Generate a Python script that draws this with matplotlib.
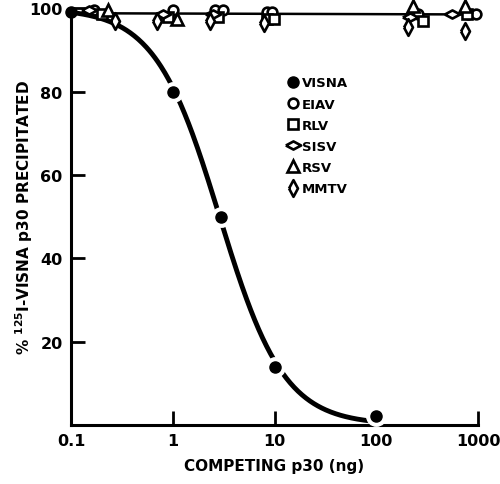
import numpy as np
import matplotlib
matplotlib.use("Agg")
import matplotlib.pyplot as plt
from matplotlib.lines import Line2D

plt.rcParams['font.family'] = ['DejaVu Sans']
plt.rcParams['font.weight'] = 'bold'
plt.rcParams['mathtext.fontset'] = 'custom'
plt.rcParams['mathtext.rm'] = 'DejaVu Sans:bold'

# VISNA competition (homologous)
visna_x = [0.1, 1, 3, 10, 100]
visna_y = [99, 80, 50, 14, 2]

# heterologous p30s, no competition
eiav_x = [0.17, 1.0, 2.6, 3.1, 8.5, 9.5, 260, 790, 960]
eiav_y = [99.5, 99.5, 99.5, 99.5, 99, 99, 98.5, 98.5, 98.5]
rlv_x = [0.2, 0.9, 2.8, 8.5, 9.8, 290, 780]
rlv_y = [98.5, 98, 98, 97.5, 97.5, 97, 98.5]
sisv_x = [0.15, 0.8, 2.5, 215, 560]
sisv_y = [99.5, 98.5, 98.5, 98, 98.5]
rsv_x = [0.23, 1.1, 230, 750]
rsv_y = [99.5, 97.5, 100.5, 100.5]
mmtv_x = [0.27, 0.7, 2.3, 7.8, 205, 750]
mmtv_y = [97, 97, 97, 96.5, 95.5, 94.5]

flat_x = [0.1, 1000]
flat_y = [98.8, 98.5]

labels = ['VISNA', 'EIAV', 'RLV', 'SISV', 'RSV', 'MMTV']

# fit a competition curve (IC50, slope) to the VISNA points
lvx = np.log10(visna_x)
best = None
for c in np.linspace(0, 1, 201):
    for s in np.linspace(0.5, 2.5, 201):
        pred = 100 / (1 + 10**(s * (lvx - c)))
        err = np.sum((pred - np.array(visna_y))**2)
        if best is None or err < best[0]:
            best = (err, c, s)
_, c50, slope = best

wide_d = [(-1.5, 0), (0, 0.8), (1.5, 0), (0, -0.8), (-1.5, 0)]
tall_d = [(-0.75, 0), (0, 1.4), (0.75, 0), (0, -1.4), (-0.75, 0)]

fig = plt.figure(figsize=(5, 4.85), dpi=100)
ax = fig.add_axes([0.142, 0.122, 0.814, 0.859])

lx = np.linspace(-0.95, 1.95, 300)
ax.plot(10**lx, 100 / (1 + 10**(slope * (lx - c50))), color='black', lw=3.5,
        solid_capstyle='butt', zorder=2)
ax.plot(flat_x, flat_y, color='black', lw=1.8, zorder=2)

mew = 1.9
open_kw = dict(ls='none', mfc='white', mec='black', mew=mew, clip_on=False, zorder=3)
sizes = dict(o=7, s=6.5, d=11, t=8.5, m=12)
ax.plot(eiav_x, eiav_y, marker='o', ms=sizes['o'], **open_kw)
ax.plot(rlv_x, rlv_y, marker='s', ms=sizes['s'], **open_kw)
ax.plot(sisv_x, sisv_y, marker=wide_d, ms=sizes['d'], **open_kw)
ax.plot(rsv_x, rsv_y, marker='^', ms=sizes['t'], **open_kw)
ax.plot(mmtv_x, mmtv_y, marker=tall_d, ms=sizes['m'], **open_kw)
# white halo breaks the curve on each side of the dots
ax.plot(visna_x[1:], visna_y[1:], ls='none', marker='o', ms=14, mfc='white', mec='white',
        clip_on=False, zorder=3.5)
ax.plot(visna_x, visna_y, ls='none', marker='o', ms=8, mfc='black', mec='black',
        clip_on=False, zorder=4)

handles = [
    Line2D([], [], ls='none', marker='o', ms=8, mfc='black', mec='black'),
    Line2D([], [], ls='none', marker='o', ms=sizes['o'], mfc='white', mec='black', mew=mew),
    Line2D([], [], ls='none', marker='s', ms=sizes['s'], mfc='white', mec='black', mew=mew),
    Line2D([], [], ls='none', marker=wide_d, ms=sizes['d'], mfc='white', mec='black', mew=mew),
    Line2D([], [], ls='none', marker='^', ms=sizes['t'], mfc='white', mec='black', mew=mew),
    Line2D([], [], ls='none', marker=tall_d, ms=sizes['m'], mfc='white', mec='black', mew=mew),
]
ax.legend(handles, labels, loc='upper left', bbox_to_anchor=(0.5, 0.865),
          frameon=False, handletextpad=0.2, handlelength=1.0, labelspacing=0.62,
          prop={'weight': 'bold', 'size': 9.5})

ax.set_xscale('log')
ax.set_xlim(0.1, 1000)
ax.set_ylim(0, 100)
ax.set_xticks([0.1, 1, 10, 100, 1000])
ax.set_xticklabels(['0.1', '1', '10', '100', '1000'])
ax.set_yticks([20, 40, 60, 80, 100])
ax.set_yticklabels(['20', '40', '60', '80', '100'])
ax.minorticks_off()
ax.tick_params(direction='in', length=10, width=2, labelsize=11.5, pad=6)
ax.tick_params(axis='y', pad=6)
ax.spines['top'].set_visible(False)
ax.spines['right'].set_visible(False)
ax.spines['left'].set_linewidth(2.2)
ax.spines['bottom'].set_linewidth(2.2)

ax.set_xlabel('COMPETING p30 (ng)', fontsize=11, fontweight='bold')
ax.set_ylabel('% $^{125}$I-VISNA p30 PRECIPITATED', fontsize=11, fontweight='bold')
ax.xaxis.set_label_coords(0.5, -0.08)
ax.yaxis.set_label_coords(-0.088, 0.5)

fig.savefig('out.png', dpi=100)
